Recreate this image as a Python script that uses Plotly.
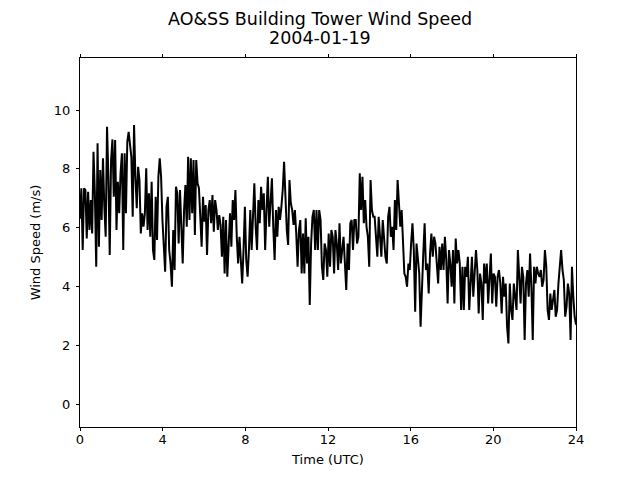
import numpy as np
import plotly.graph_objects as go

# Wind speed (m/s), in time order (0-24 UTC, evenly spaced)
speed_00_04 = [6.3, 7.34, 5.24, 7.34, 7.28, 5.63, 7.22, 5.92, 6.94, 5.80, 8.58, 7.17, 4.67, 8.87,
               5.35, 7.96, 6.26, 8.36, 6.71, 5.69, 9.43, 7.73, 5.07, 8.30, 9.0, 7.05, 8.98, 5.92,
               7.56, 6.49, 7.85, 8.53, 5.24, 8.53, 6.49, 8.92, 9.26, 8.75, 8.41, 6.37, 9.49, 7.73,
               6.66, 8.07, 7.62, 5.80, 6.49, 6.03, 6.49, 8.02, 5.92, 7.17, 5.69, 7.56, 5.24, 4.90,
               7.05, 5.58, 7.73, 8.36, 7.73]
speed_04_08 = [6.26, 5.24, 4.50, 6.71, 7.05, 5.24, 4.78, 3.99, 5.92, 4.56, 7.39, 7.17, 5.46, 7.28,
               5.69, 4.78, 6.60, 7.45, 6.03, 8.41, 6.26, 8.36, 6.49, 8.30, 5.75, 8.30, 7.51, 7.34,
               6.37, 5.35, 7.05, 6.20, 6.77, 5.07, 6.60, 6.94, 6.15, 7.11, 5.86, 6.94, 6.60, 5.92,
               6.43, 6.09, 5.01, 6.37, 4.44, 6.26, 4.33, 5.46, 6.49, 5.35, 6.94, 6.26, 7.28, 5.69,
               4.78, 5.69, 5.01, 4.10]
speed_08_12 = [5.24, 6.71, 4.90, 4.33, 5.24, 6.60, 5.24, 6.26, 7.51, 6.03, 5.24, 6.94, 6.15, 7.39,
               6.60, 7.17, 5.24, 6.60, 7.73, 6.03, 6.83, 7.68, 6.03, 4.90, 6.60, 5.69, 6.71, 6.26,
               6.71, 7.28, 8.24, 6.71, 5.92, 5.41, 7.62, 6.83, 6.60, 6.09, 6.60, 5.80, 4.67, 5.92,
               6.26, 4.44, 5.80, 4.44, 6.32, 4.78, 5.69, 3.37, 5.46, 6.37, 6.60, 5.24, 6.60, 5.24,
               6.60, 6.26, 4.67, 4.22, 5.46, 5.24, 4.33]
speed_12_16 = [5.80, 4.67, 5.92, 5.69, 4.44, 5.92, 5.46, 4.56, 6.15, 4.78, 5.24, 5.69, 4.78, 3.88,
               5.46, 4.56, 6.15, 6.26, 5.24, 6.26, 6.26, 5.46, 5.69, 7.85, 6.60, 7.73, 6.15, 6.94,
               6.03, 5.69, 4.67, 7.62, 6.60, 6.37, 6.37, 5.46, 5.01, 6.37, 5.80, 5.01, 6.26, 5.69,
               5.01, 4.78, 6.37, 6.71, 5.69, 6.03, 5.24, 6.94, 5.92, 7.62, 6.83, 6.03, 6.60, 5.24,
               4.44, 4.33, 3.99, 4.78, 4.56, 5.46, 6.15]
speed_16_20 = [5.24, 3.14, 5.46, 4.78, 4.44, 2.63, 4.10, 5.12, 6.15, 4.56, 4.78, 3.76, 5.12, 5.80,
               5.01, 5.69, 5.46, 4.90, 4.10, 5.35, 4.56, 5.46, 4.56, 5.69, 4.90, 3.42, 5.24, 4.78,
               3.99, 5.24, 3.42, 5.63, 4.78, 5.24, 4.78, 3.20, 4.67, 3.20, 4.67, 4.33, 5.01, 3.20,
               4.33, 5.01, 3.65, 4.56, 5.24, 4.56, 3.08, 4.44, 4.10, 2.86, 4.78, 4.10, 4.78, 3.42,
               4.44, 5.12, 3.42, 4.44, 4.33, 3.31, 4.33]
speed_20_24 = [4.56, 4.10, 3.08, 4.33, 3.65, 4.10, 2.63, 2.06, 4.10, 3.20, 2.86, 4.10, 3.65, 3.20,
               5.24, 4.10, 3.42, 4.67, 4.33, 2.18, 4.10, 4.56, 3.65, 5.12, 3.99, 2.18, 4.67, 4.10,
               4.67, 4.44, 4.33, 4.56, 3.99, 4.22, 5.24, 4.67, 3.20, 2.86, 3.76, 3.20, 3.65, 3.88,
               2.97, 3.20, 4.10, 4.67, 5.24, 4.56, 4.22, 2.97, 3.31, 4.10, 3.76, 2.18, 4.67, 3.65,
               2.97, 2.70]

speed = speed_00_04 + speed_04_08 + speed_08_12 + speed_12_16 + speed_16_20 + speed_20_24
hours = np.linspace(0, 24, len(speed))

x_ticks = [0, 4, 8, 12, 16, 20, 24]
y_ticks = [0, 2, 4, 6, 8, 10]

title_line1 = "AO&SS Building Tower Wind Speed"
title_line2 = "2004-01-19"
x_title = "Time (UTC)"
y_title = "Wind Speed (m/s)"

font_family = "DejaVu Sans"

# the page body has an 8px margin, so the figure is drawn 8px smaller
W, H = 632, 472
ML, MR, MT, MB = 72, 64, 50, 53
plot_w = W - ML - MR
plot_h = H - MT - MB


def paper_x(px):
    return (px - ML) / plot_w


def paper_y(py):
    return (H - MB - py) / plot_h


fig = go.Figure()
fig.add_trace(go.Scatter(x=hours, y=speed, mode="lines",
                         line=dict(color="black", width=2), showlegend=False))

fig.update_layout(
    width=W, height=H,
    paper_bgcolor="white", plot_bgcolor="white",
    margin=dict(l=ML, r=MR, t=MT, b=MB, autoexpand=False),
    font=dict(family=font_family, size=13, color="black"),
    annotations=[
        dict(text=title_line1, xref="paper", yref="paper", x=paper_x(312), y=paper_y(10.5),
             xanchor="center", yanchor="middle", showarrow=False,
             font=dict(family=font_family, size=17.5, color="black")),
        dict(text=title_line2, xref="paper", yref="paper", x=paper_x(312), y=paper_y(30),
             xanchor="center", yanchor="middle", showarrow=False,
             font=dict(family=font_family, size=17.5, color="black")),
    ],
)
fig.update_xaxes(range=[0, 24], tickvals=x_ticks, ticktext=[str(v) for v in x_ticks],
                 showgrid=False, zeroline=False, showline=True, linecolor="black", linewidth=1,
                 mirror="ticks", ticks="outside", ticklen=3, tickcolor="black", tickwidth=1,
                 ticklabelstandoff=-3,
                 title=dict(text=x_title, standoff=9, font=dict(size=13)))
fig.update_yaxes(range=[-0.78, 11.77], tickvals=y_ticks, ticktext=[str(v) for v in y_ticks],
                 showgrid=False, zeroline=False, showline=True, linecolor="black", linewidth=1,
                 mirror=True, ticks="outside", ticklen=3, tickcolor="black", tickwidth=1,
                 ticklabelstandoff=3,
                 title=dict(text=y_title, standoff=10, font=dict(size=13)))

fig.write_html("out.html")
